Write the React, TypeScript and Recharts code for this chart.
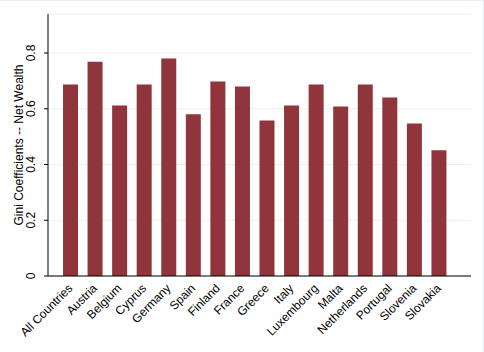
import React from "react";
import { BarChart, Bar, XAxis, YAxis, CartesianGrid } from "recharts";

const countries = [
    "All Countries",
    "Austria",
    "Belgium",
    "Cyprus",
    "Germany",
    "Spain",
    "Finland",
    "France",
    "Greece",
    "Italy",
    "Luxembourg",
    "Malta",
    "Netherlands",
    "Portugal",
    "Slovenia",
    "Slovakia"
];

const gini = [
    0.687, 0.769, 0.612, 0.687, 0.78, 0.58, 0.698, 0.68, 0.558, 0.612, 0.687,
    0.608, 0.687, 0.64, 0.547, 0.451
];

const yTicks = [0, 0.2, 0.4, 0.6, 0.8];

const data = countries.map((c, i) => ({ country: c, gini: gini[i] }));

const font = "'Liberation Sans', Arial, sans-serif";

/** Vertical y tick labels, Stata style */
const YTick = (props: any) => {
    const { x, y, payload } = props;
    return (
        <text
            transform={`translate(${x - 7},${y}) rotate(-90)`}
            textAnchor="middle"
            fontSize={12}
            fontFamily={font}
            fill="#000"
        >
            {payload.value === 0 ? "0" : String(payload.value)}
        </text>
    );
};

/** Slanted country names */
const XTick = (props: any) => {
    const { x, y, payload } = props;
    return (
        <text
            transform={`translate(${x + 3},${y + 5}) rotate(-45)`}
            textAnchor="end"
            fontSize={12}
            fontFamily={font}
            fill="#000"
        >
            {payload.value}
        </text>
    );
};

export default function App() {
    return (
        <div
            style={{
                position: "absolute",
                left: 0,
                top: 0,
                width: 484,
                height: 352,
                boxSizing: "border-box",
                borderTop: "1px solid #e6eef0",
                borderRight: "1px solid #e6eef0",
                background: "#fff"
            }}
        >
            <BarChart
                width={483}
                height={351}
                data={data}
                margin={{ top: 13, right: 12, left: 0, bottom: 0 }}
            >
                <CartesianGrid
                    vertical={false}
                    stroke="#eaf1f3"
                    strokeWidth={1}
                />
                <XAxis
                    dataKey="country"
                    interval={0}
                    height={76}
                    tickLine={false}
                    axisLine={{ stroke: "#000", strokeWidth: 1 }}
                    padding={{ left: 10, right: 20 }}
                    tick={<XTick />}
                />
                <YAxis
                    width={48}
                    domain={[0, 0.94]}
                    ticks={yTicks}
                    tickSize={4}
                    tickLine={{ stroke: "#000" }}
                    axisLine={{ stroke: "#000", strokeWidth: 1 }}
                    tick={<YTick />}
                    label={{
                        value: "Gini Coefficients -- Net Wealth",
                        angle: -90,
                        position: "insideLeft",
                        dx: 14,
                        style: {
                            textAnchor: "middle",
                            fontSize: 12,
                            fontFamily: font,
                            fill: "#000"
                        }
                    }}
                />
                <Bar
                    dataKey="gini"
                    fill="#90353b"
                    barSize={15}
                    isAnimationActive={false}
                />
            </BarChart>
        </div>
    );
}
